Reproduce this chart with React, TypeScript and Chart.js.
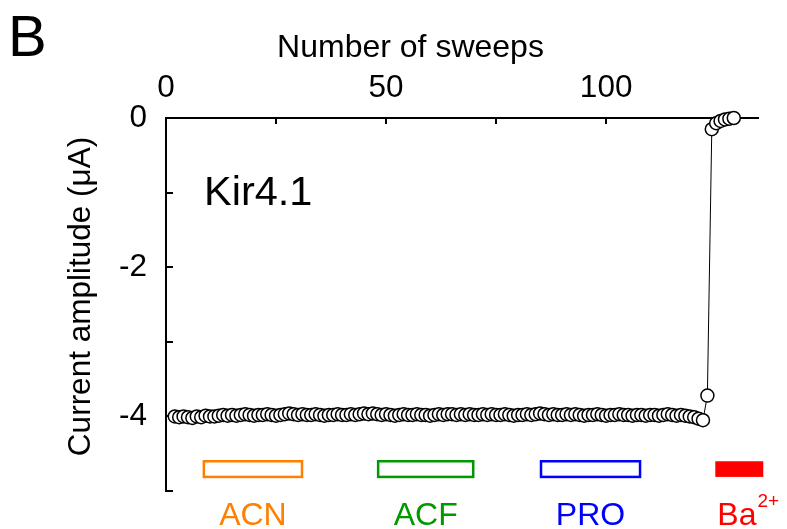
import React, { useEffect, useRef } from 'react';
import { Chart, registerables } from 'chart.js';

Chart.register(...registerables);

const FONT = "'Liberation Sans', Arial, Helvetica, sans-serif";

// Sweep number of the first recorded point; one point per sweep after it
const firstSweep = 2;

// Current amplitude (µA) per sweep
const amplitudes = [
  -4.0, -4.01, -4.0, -4.01, -4.02, -4.0, -4.01, -3.99, -4.0, -4.0,
  -3.99, -3.98, -3.99, -3.98, -3.99, -3.98, -3.97, -3.98, -3.99, -3.98,
  -3.98, -3.97, -3.98, -3.99, -3.98, -3.97, -3.96, -3.97, -3.98, -3.97,
  -3.98, -3.98, -3.97, -3.98, -3.99, -3.98, -3.98, -3.97, -3.98, -3.98,
  -3.97, -3.98, -3.97, -3.96, -3.97, -3.96, -3.97, -3.98, -3.97, -3.98,
  -3.99, -3.98, -3.97, -3.98, -3.98, -3.97, -3.98, -3.98, -3.99, -3.98,
  -3.97, -3.98, -3.97, -3.97, -3.98, -3.97, -3.98, -3.97, -3.98, -3.98,
  -3.97, -3.98, -3.97, -3.98, -3.98, -3.97, -3.98, -3.99, -3.98, -3.98,
  -3.97, -3.98, -3.97, -3.96, -3.97, -3.98, -3.97, -3.98, -3.98, -3.97,
  -3.98, -3.97, -3.98, -3.99, -3.98, -3.98, -3.97, -3.98, -3.99, -3.98,
  -3.98, -3.97, -3.98, -3.98, -3.99, -3.98, -3.98, -3.99, -3.98, -3.98,
  -3.99, -3.98, -3.97, -3.98, -3.99, -3.98, -3.99, -4.0, -4.01, -4.03, -4.05,
  -3.72,
  -0.15, -0.07, -0.04, -0.02, -0.01, 0.0,
];

const xTickLabels = [0, 50, 100];
const yTickLabels = [0, -2, -4];

// Drug application periods (in sweeps)
const drugNames = ['ACN', 'ACF', 'PRO', 'Ba'];
const drugSuperscripts = ['', '', '', '2+'];
const drugStart = [8.6, 48.2, 85.2, 124.8];
const drugEnd = [30.9, 69.8, 107.7, 135.7];
const drugColors = ['#FF8000', '#009900', '#0000FF', '#FF0000'];
const drugFilled = [false, false, false, true];
const drugBarTop = -4.6;
const drugBarBottom = -4.81;

const panelLetter = 'B';
const channelName = 'Kir4.1';
const xTitle = 'Number of sweeps';
const yTitle = 'Current amplitude (\u03BCA)';

const overlayPlugin = {
  id: 'overlay',
  beforeDatasetsDraw(chart: any) {
    const { ctx, scales, chartArea } = chart;
    const x = scales.x;
    const y = scales.y;
    ctx.save();
    ctx.strokeStyle = '#000';
    ctx.lineWidth = 2;
    x.ticks.forEach((t: any) => {
      const px = Math.round(x.getPixelForValue(t.value));
      ctx.beginPath();
      ctx.moveTo(px, chartArea.top);
      ctx.lineTo(px, chartArea.top + 6);
      ctx.stroke();
    });
    y.ticks.forEach((t: any) => {
      const py = Math.round(y.getPixelForValue(t.value));
      ctx.beginPath();
      ctx.moveTo(chartArea.left, py);
      ctx.lineTo(chartArea.left + 7, py);
      ctx.stroke();
    });
    ctx.restore();
  },
  afterDraw(chart: any) {
    const { ctx, scales } = chart;
    const x = scales.x;
    const y = scales.y;
    ctx.save();
    // drug bars
    const yTop = y.getPixelForValue(drugBarTop);
    const yBot = y.getPixelForValue(drugBarBottom);
    drugNames.forEach((name, i) => {
      const x0 = x.getPixelForValue(drugStart[i]);
      const x1 = x.getPixelForValue(drugEnd[i]);
      ctx.lineWidth = 2.5;
      if (drugFilled[i]) {
        ctx.fillStyle = drugColors[i];
        ctx.fillRect(x0, yTop, x1 - x0, yBot - yTop);
      } else {
        ctx.strokeStyle = drugColors[i];
        ctx.strokeRect(x0, yTop, x1 - x0, yBot - yTop);
      }
      // label
      ctx.fillStyle = drugColors[i];
      ctx.textBaseline = 'alphabetic';
      ctx.textAlign = 'left';
      ctx.font = `32px ${FONT}`;
      const w1 = ctx.measureText(name).width;
      const startX = drugSuperscripts[i] ? x0 + 2 : (x0 + x1) / 2 - w1 / 2;
      ctx.fillText(name, startX, 525);
      if (drugSuperscripts[i]) {
        ctx.font = `19px ${FONT}`;
        ctx.fillText(drugSuperscripts[i], startX + w1 + 1, 507);
      }
    });

    ctx.fillStyle = '#000';
    ctx.textAlign = 'left';
    ctx.textBaseline = 'alphabetic';
    ctx.font = `58px ${FONT}`;
    ctx.fillText(panelLetter, 8, 56);
    ctx.font = `41.5px ${FONT}`;
    ctx.fillText(channelName, 204, 205);

    ctx.font = `32px ${FONT}`;
    ctx.textAlign = 'center';
    ctx.fillText(xTitle, 410.5, 57);

    ctx.save();
    ctx.translate(90, 296.5);
    ctx.rotate(-Math.PI / 2);
    ctx.font = `31.5px ${FONT}`;
    ctx.fillText(yTitle, 0, 0);
    ctx.restore();

    ctx.restore();
  },
};

export default function App() {
  const ref = useRef<HTMLCanvasElement | null>(null);

  useEffect(() => {
    if (!ref.current) return;
    const points = amplitudes.map((v, i) => ({ x: firstSweep + i, y: v }));
    const chart = new Chart(ref.current, {
      type: 'line',
      data: {
        datasets: [
          {
            data: points,
            borderColor: '#000',
            borderWidth: 1,
            pointRadius: 6.5,
            pointBackgroundColor: '#fff',
            pointBorderColor: '#000',
            pointBorderWidth: 1.5,
            tension: 0,
            fill: false,
            clip: false as any,
          },
        ],
      },
      options: {
        animation: false,
        responsive: false,
        devicePixelRatio: 1,
        layout: { padding: { left: 0, top: 0, right: 29, bottom: 36 } },
        plugins: {
          legend: { display: false },
          tooltip: { enabled: false },
        },
        scales: {
          x: {
            type: 'linear',
            position: 'top',
            min: 0,
            max: 134.5,
            afterFit: (s: any) => {
              s.height = 118;
            },
            ticks: {
              stepSize: 25,
              includeBounds: false,
              autoSkip: false,
              maxRotation: 0,
              padding: 11,
              color: '#000',
              font: { family: FONT, size: 31.5 },
              callback: (v: any) => (xTickLabels.includes(Number(v)) ? String(v) : ''),
            },
            grid: { display: false, drawOnChartArea: false, drawTicks: false },
            border: { display: true, color: '#000', width: 2 },
          },
          y: {
            type: 'linear',
            min: -5,
            max: 0,
            afterFit: (s: any) => {
              s.width = 166;
            },
            ticks: {
              stepSize: 1,
              autoSkip: false,
              padding: 19,
              color: '#000',
              font: { family: FONT, size: 31.5 },
              callback: (v: any) => (yTickLabels.includes(Number(v)) ? String(v) : ''),
            },
            grid: { display: false, drawOnChartArea: false, drawTicks: false },
            border: { display: true, color: '#000', width: 2 },
          },
        },
      },
      plugins: [overlayPlugin],
    });
    return () => chart.destroy();
  }, []);

  return (
    <div style={{ position: 'fixed', left: 0, top: 0, width: 787, height: 529, background: '#fff' }}>
      <canvas ref={ref} width={787} height={529} style={{ display: 'block' }} />
    </div>
  );
}
